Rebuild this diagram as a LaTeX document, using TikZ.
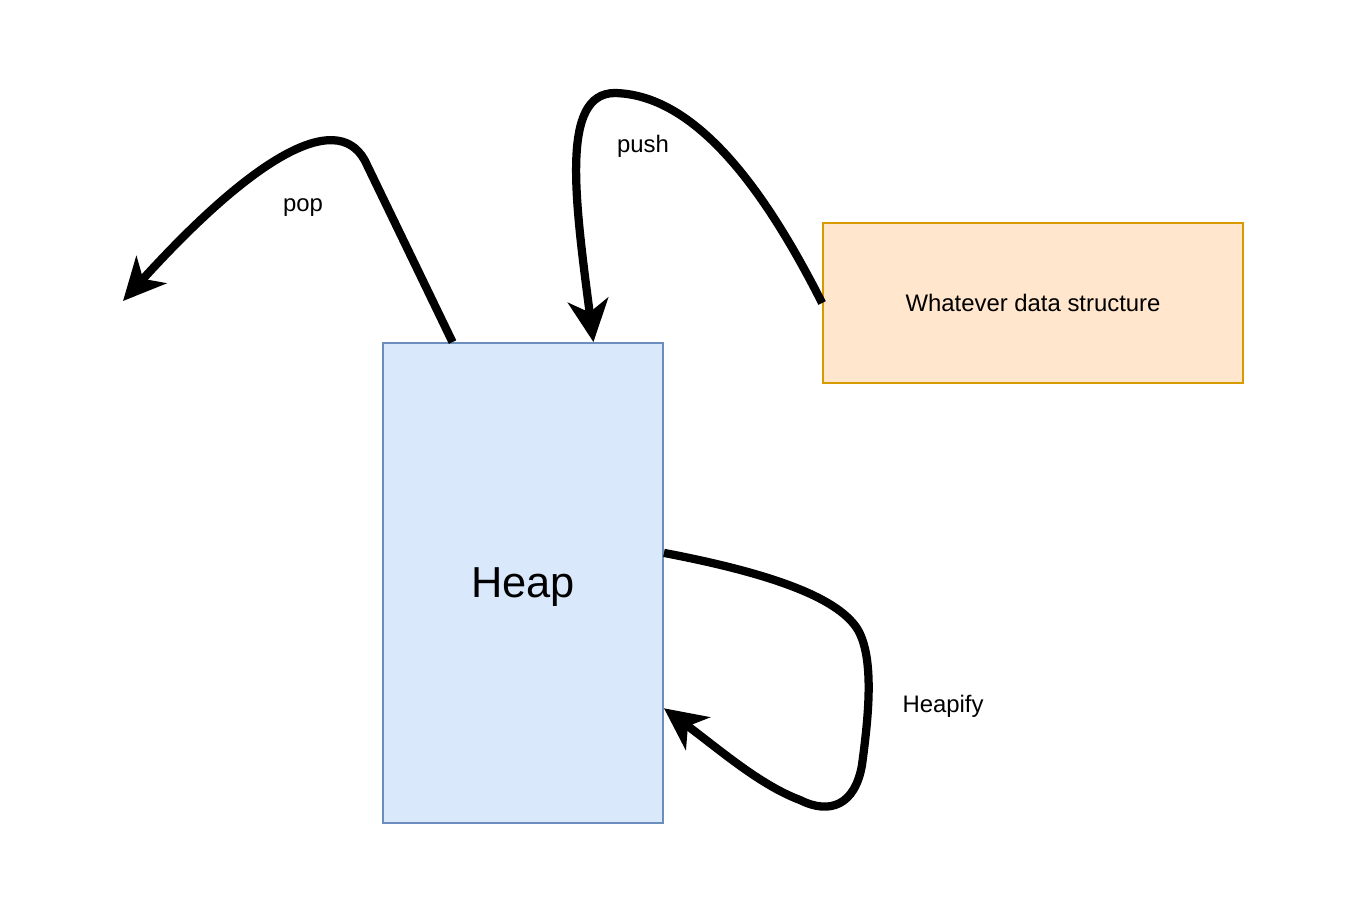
\documentclass[tikz,border=0pt]{standalone}
\usepackage{fontspec}
\setmainfont{Liberation Sans}
\usetikzlibrary{arrows.meta, calc}

\definecolor{heapfill}{HTML}{DAE8FC}
\definecolor{heapline}{HTML}{6C8EBF}
\definecolor{dsfill}{HTML}{FFE6CC}
\definecolor{dsline}{HTML}{D79B00}

\begin{document}
\begin{tikzpicture}[x=0.02cm, y=-0.02cm, font=\fontsize{13.6}{16}\selectfont,
		flow/.style={line width=4.7pt, -{Stealth[length=24pt, width=23pt, inset=7pt]}},
		heapbox/.style={draw=heapline, fill=heapfill, line width=1.1pt, minimum width=5.6cm, minimum height=9.6cm, inner sep=0pt, text depth=0pt},
		dsbox/.style={draw=dsline, fill=dsfill, line width=1.1pt, minimum width=8.4cm, minimum height=3.2cm, inner sep=0pt}]
		\useasboundingbox (0, 0) rectangle (1366, 914);
		
		\node[heapbox] (heap) at (523, 583) {\fontsize{24.7}{30}\selectfont Heap};
		\node[dsbox] (ds) at (1033, 303) {Whatever data structure};
		
		\coordinate (popend) at (123, 301);
		\coordinate (popstart) at ($(heap.north west)!0.25!(heap.north east)$);
		\coordinate (pushend) at ($(heap.north west)!0.75!(heap.north east)$);
		\coordinate (hpstart) at ($(heap.north east)!0.4375!(heap.south east)$);
		\coordinate (hpend) at ($(heap.north east)!0.76!(heap.south east)$);
		
		\node (pop) at (303, 205) [text depth=0pt] {pop};
		\node (push) at (643, 146) {push};
		\node (heapify) at (943, 704) [text depth=0pt] {Heapify};
		
		\draw[flow] (popstart) -- (367, 165) .. controls (342, 108) and (260, 150) .. (popend);
		\draw[flow] (ds.west) .. controls (770, 200) and (700, 95) .. (615, 93)
			.. controls (560, 93) and (575, 200) .. (pushend);
		\draw[flow] (hpstart) .. controls (780, 575) and (840, 600) .. (858, 630)
			.. controls (875, 660) and (868, 720) .. (862, 765)
			.. controls (855, 805) and (830, 815) .. (800, 800)
			.. controls (760, 785) and (720, 750) .. (hpend);
	\end{tikzpicture}
\end{document}
